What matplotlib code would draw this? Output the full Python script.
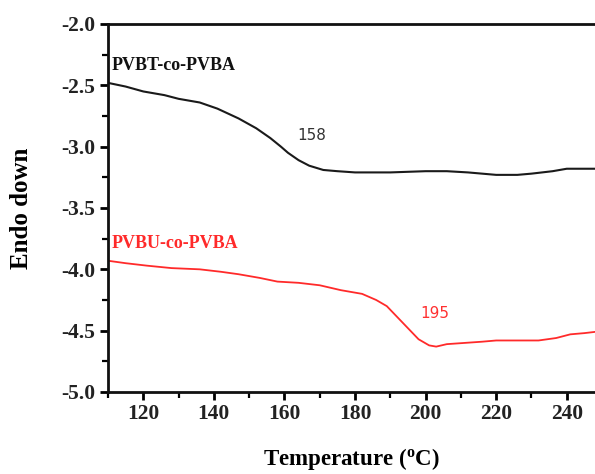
import matplotlib
matplotlib.use("Agg")
import matplotlib.pyplot as plt
from matplotlib.ticker import MultipleLocator

plt.rcParams["axes.unicode_minus"] = False

# Data
t_black = [110, 115, 120, 126, 130, 136, 141, 147, 152, 156, 159, 161, 164, 167, 171, 175, 180, 190, 200, 206, 212, 220, 226, 230, 236, 240, 244, 248]
y_black = [-2.48, -2.51, -2.55, -2.58, -2.61, -2.64, -2.69, -2.77, -2.85, -2.93, -3.00, -3.05, -3.11, -3.155, -3.19, -3.20, -3.21, -3.21, -3.20, -3.20, -3.21, -3.23, -3.23, -3.22, -3.20, -3.18, -3.18, -3.18]

t_red = [110, 115, 121, 128, 136, 142, 147, 153, 158, 164, 170, 176, 182, 186, 189, 192, 195, 198, 201, 203, 206, 211, 216, 220, 226, 232, 237, 241, 245, 248]
y_red = [-3.93, -3.95, -3.97, -3.99, -4.00, -4.02, -4.04, -4.07, -4.10, -4.11, -4.13, -4.17, -4.20, -4.25, -4.30, -4.39, -4.48, -4.57, -4.62, -4.63, -4.61, -4.60, -4.59, -4.58, -4.58, -4.58, -4.56, -4.53, -4.52, -4.51]

xlim = (110, 248)
ylim = (-5.0, -2.0)
x_ticks = [120, 140, 160, 180, 200, 220, 240]
y_ticks = [-5.0, -4.5, -4.0, -3.5, -3.0, -2.5, -2.0]

serif = ["Liberation Serif", "DejaVu Serif"]

fig = plt.figure(figsize=(5.95, 4.74), dpi=100)
ax = fig.add_axes([0.1815, 0.173, 0.8185, 0.7764])

ax.plot(t_black, y_black, color="#1a1a1a", lw=1.5)
ax.plot(t_red, y_red, color="#ff2a2a", lw=1.3)

ax.set_xlim(*xlim)
ax.set_ylim(*ylim)
ax.set_xticks(x_ticks)
ax.set_yticks(y_ticks)
ax.set_yticklabels([f"{v:.1f}" for v in y_ticks])
ax.xaxis.set_minor_locator(MultipleLocator(10))
ax.yaxis.set_minor_locator(MultipleLocator(0.25))

ax.spines["right"].set_visible(False)
for s in ["left", "bottom", "top"]:
    ax.spines[s].set_linewidth(2.0)
    ax.spines[s].set_color("#111111")

ax.tick_params(which="major", direction="out", length=6, width=2.0, pad=3)
ax.tick_params(which="minor", direction="out", length=4, width=1.6)
ax.tick_params(axis="x", which="both", top=False)
for lab in ax.get_xticklabels() + ax.get_yticklabels():
    lab.set_family(serif)
    lab.set_fontweight("bold")
    lab.set_fontsize(15.5)
    lab.set_color("#222222")

ax.set_xlabel("Temperature ($\\mathregular{^o}$C)", family=serif, fontweight="bold", fontsize=16.5, va="center")
ax.xaxis.set_label_coords(0.5, (392 - 459) / 368)
ax.set_ylabel("Endo down", family=serif, fontweight="bold", fontsize=18, va="center")
ax.yaxis.set_label_coords((22 - 108) / 487, 0.5)

ax.text(111, -2.34, "PVBT-co-PVBA", family=serif, fontweight="bold", fontsize=13, color="#111111", va="center")
ax.text(111, -3.79, "PVBU-co-PVBA", family=serif, fontweight="bold", fontsize=13, color="#ff2a2a", va="center")
ax.text(167.6, -2.905, "158", family="DejaVu Sans", fontsize=11, color="#333333", ha="center", va="center")
ax.text(202.7, -4.36, "195", family="DejaVu Sans", fontsize=11, color="#ff3030", ha="center", va="center")

fig.savefig("out.png", dpi=100)
